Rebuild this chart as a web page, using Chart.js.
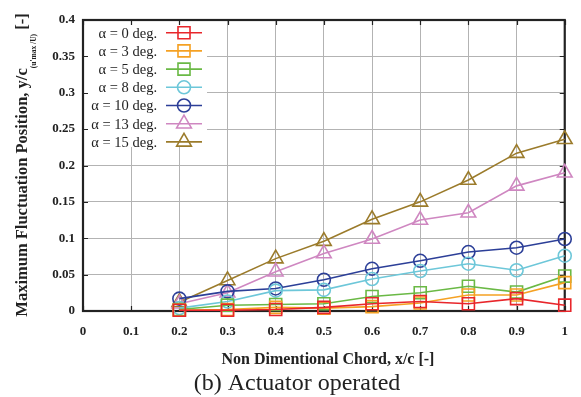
<!DOCTYPE html>
<html>
<head>
<meta charset="utf-8">
<script src="https://cdn.jsdelivr.net/npm/chart.js@4/dist/chart.umd.min.js"></script>
<style>
html,body{margin:0;padding:0;background:#fff;}
canvas{display:block;}
</style>
</head>
<body>
<canvas id="c" width="581" height="397"></canvas>
<script>
// ---- data ----
const chordPositions = [0.2, 0.3, 0.4, 0.5, 0.6, 0.7, 0.8, 0.9, 1.0];
const seriesLabels = ['α = 0 deg.', 'α = 3 deg.', 'α = 5 deg.', 'α = 8 deg.', 'α = 10 deg.', 'α = 13 deg.', 'α = 15 deg.'];
const alpha0  = [0.001, 0.001, 0.002, 0.005, 0.010, 0.013, 0.010, 0.017, 0.008];
const alpha3  = [0.001, 0.002, 0.005, 0.004, 0.006, 0.011, 0.022, 0.022, 0.039];
const alpha5  = [0.002, 0.008, 0.009, 0.010, 0.020, 0.025, 0.034, 0.026, 0.048];
const alpha8  = [0.004, 0.013, 0.028, 0.029, 0.044, 0.055, 0.065, 0.056, 0.076];
const alpha10 = [0.017, 0.027, 0.031, 0.043, 0.058, 0.069, 0.081, 0.087, 0.099];
const alpha13 = [0.010, 0.025, 0.054, 0.079, 0.099, 0.125, 0.135, 0.172, 0.190];
const alpha15 = [0.012, 0.042, 0.072, 0.096, 0.126, 0.150, 0.180, 0.217, 0.236];
const xTicks = [0, 0.1, 0.2, 0.3, 0.4, 0.5, 0.6, 0.7, 0.8, 0.9, 1];
const yTicks = [0, 0.05, 0.1, 0.15, 0.2, 0.25, 0.3, 0.35, 0.4];

const seriesValues = [alpha0, alpha3, alpha5, alpha8, alpha10, alpha13, alpha15];
const colors = ['#e8262b', '#f5a123', '#6ab945', '#6dc7d9', '#2c3f98', '#cf87c1', '#9b7b2b'];
const styles = ['rect', 'rect', 'rect', 'circle', 'circle', 'triangle', 'triangle'];
const radii = {rect: 8.5, circle: 6.5, triangle: 8.5};

const SERIF = "'Liberation Serif','Times New Roman',serif";

const datasets = seriesValues.map((vals, i) => ({
  label: seriesLabels[i],
  data: chordPositions.map((x, j) => ({x: x, y: vals[j]})),
  borderColor: colors[i],
  backgroundColor: 'rgba(0,0,0,0)',
  borderWidth: 1.6,
  pointStyle: styles[i],
  pointRadius: radii[styles[i]],
  pointBorderWidth: 1.6,
  pointBorderColor: colors[i],
  pointBackgroundColor: 'rgba(0,0,0,0)',
  tension: 0,
  clip: false
}));

function drawMarker(ctx, style, r, x, y) {
  ctx.beginPath();
  if (style === 'rect') {
    const s = Math.SQRT1_2 * r;
    ctx.rect(x - s, y - s, 2 * s, 2 * s);
  } else if (style === 'circle') {
    ctx.arc(x, y, r, 0, Math.PI * 2);
  } else {
    const a = 2 * Math.PI / 3;
    ctx.moveTo(x, y - r);
    ctx.lineTo(x + Math.sin(a) * r, y - Math.cos(a) * r);
    ctx.lineTo(x + Math.sin(2 * a) * r, y - Math.cos(2 * a) * r);
    ctx.closePath();
  }
  ctx.stroke();
}

const framePlugin = {
  id: 'frame',
  beforeDatasetsDraw(chart) {
    const ctx = chart.ctx, a = chart.chartArea;
    const xs = chart.scales.x, ys = chart.scales.y;
    ctx.save();
    // legend background
    ctx.fillStyle = '#fff';
    ctx.fillRect(a.left + 1, a.top + 1, 123, 126);
    // inner tick marks
    ctx.strokeStyle = '#222';
    ctx.lineWidth = 1.2;
    ctx.beginPath();
    xTicks.forEach(v => {
      const px = Math.round(xs.getPixelForValue(v)) + 0.5;
      ctx.moveTo(px, a.bottom); ctx.lineTo(px, a.bottom - 5);
      ctx.moveTo(px, a.top); ctx.lineTo(px, a.top + 5);
    });
    yTicks.forEach(v => {
      const py = Math.round(ys.getPixelForValue(v)) + 0.5;
      ctx.moveTo(a.left, py); ctx.lineTo(a.left + 5, py);
      ctx.moveTo(a.right, py); ctx.lineTo(a.right - 5, py);
    });
    ctx.stroke();
    // frame
    ctx.lineWidth = 2.2;
    ctx.strokeStyle = '#222';
    ctx.strokeRect(a.left, a.top, a.right - a.left, a.bottom - a.top);
    // legend
    ctx.font = '14.5px ' + SERIF;
    ctx.textAlign = 'right';
    ctx.textBaseline = 'middle';
    chart.data.datasets.forEach((ds, i) => {
      const y = a.top + 12.7 + i * 18.2;
      ctx.fillStyle = '#222';
      ctx.fillText(ds.label, a.left + 74, y + 1);
      ctx.strokeStyle = ds.borderColor;
      ctx.lineWidth = 1.6;
      ctx.beginPath();
      ctx.moveTo(a.left + 83, y); ctx.lineTo(a.left + 119, y);
      ctx.stroke();
      drawMarker(ctx, ds.pointStyle, ds.pointRadius, a.left + 101, y);
    });
    ctx.restore();
  },
  afterDraw(chart) {
    const ctx = chart.ctx, a = chart.chartArea;
    ctx.save();
    ctx.fillStyle = '#222';
    // y title with subscript
    const main = 'Maximum Fluctuation Position, y/c';
    const sub = "(u'max /U)";
    const tail = ' [-]';
    const MAINF = 'bold 16.5px ' + SERIF, SUBF = 'bold 7.5px ' + SERIF;
    ctx.font = MAINF;
    const wMain = ctx.measureText(main).width;
    const wTail = ctx.measureText(tail).width;
    ctx.font = SUBF;
    const wSub = ctx.measureText(sub).width;
    const total = wMain + wSub + wTail;
    ctx.translate(22, 165);
    ctx.rotate(-Math.PI / 2);
    ctx.textAlign = 'left';
    ctx.textBaseline = 'alphabetic';
    let u = -total / 2;
    ctx.font = MAINF;
    ctx.fillText(main, u, 5);
    u += wMain;
    ctx.font = SUBF;
    ctx.fillText(sub, u, 13.5);
    u += wSub;
    ctx.font = MAINF;
    ctx.fillText(tail, u, 5);
    ctx.restore();
    // x title and caption
    ctx.save();
    ctx.fillStyle = '#222';
    ctx.textAlign = 'center';
    ctx.textBaseline = 'middle';
    ctx.font = 'bold 16px ' + SERIF;
    ctx.fillText('Non Dimentional Chord, x/c [-]', 328, 360);
    ctx.font = '24px ' + SERIF;
    ctx.fillText('(b) Actuator operated', 297, 384);
    ctx.restore();
  }
};

new Chart(document.getElementById('c'), {
  type: 'line',
  data: {datasets: datasets},
  options: {
    responsive: false,
    devicePixelRatio: 1,
    animation: false,
    layout: {padding: {top: 20, right: 6, left: 0, bottom: 0}},
    plugins: {legend: {display: false}, tooltip: {enabled: false}},
    scales: {
      x: {
        type: 'linear', min: 0, max: 1,
        afterFit(s) { s.height = 86; },
        afterBuildTicks(s) { s.ticks = xTicks.map(v => ({value: v})); },
        ticks: {
          color: '#222', padding: 13,
          font: {family: SERIF, size: 13, weight: 'bold'},
          callback: v => String(+v.toFixed(1))
        },
        grid: {color: '#b3b3b3', lineWidth: 1, drawTicks: false},
        border: {display: false}
      },
      y: {
        type: 'linear', min: 0, max: 0.4,
        afterFit(s) { s.width = 83; },
        afterBuildTicks(s) { s.ticks = yTicks.map(v => ({value: v})); },
        ticks: {
          color: '#222', padding: 8,
          font: {family: SERIF, size: 13, weight: 'bold'},
          callback: v => String(+v.toFixed(2))
        },
        grid: {color: '#b3b3b3', lineWidth: 1, drawTicks: false},
        border: {display: false}
      }
    }
  },
  plugins: [framePlugin]
});
</script>
</body>
</html>
